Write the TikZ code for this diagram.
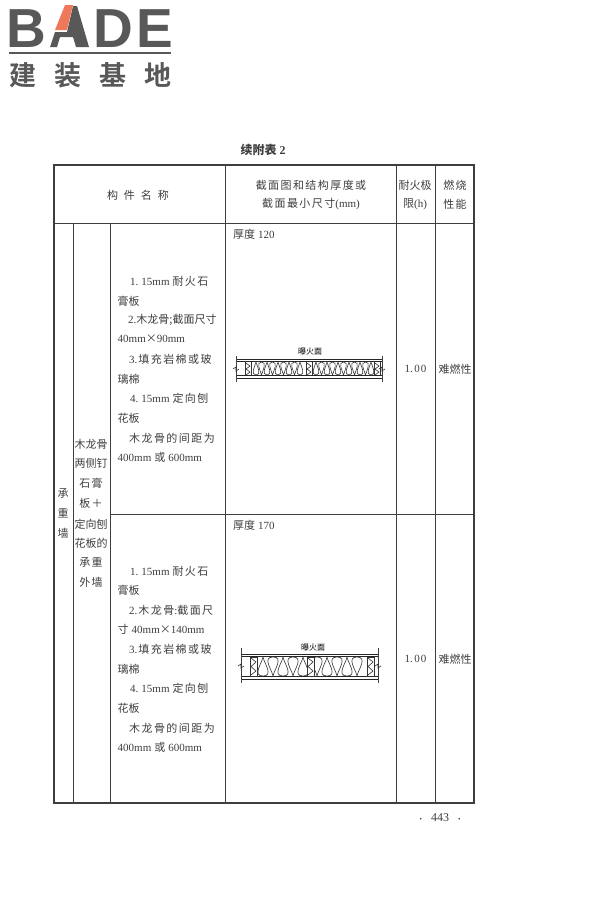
\documentclass[tikz,border=0pt]{standalone}
\usepackage{fontspec}
\setmainfont{Liberation Serif}
\newfontfamily\cjk{Noto Sans CJK SC}
\newfontfamily\cjkwide[LetterSpace=13]{Noto Sans CJK SC}
\newfontfamily\cjkbold{Noto Sans CJK SC Bold}
\usetikzlibrary{positioning}
\definecolor{inkgrey}{RGB}{62,62,62}
\definecolor{logogrey}{RGB}{88,88,88}
\definecolor{logored}{RGB}{240,120,90}
\newcommand{\zh}[1]{{\cjk #1}}
\newcommand{\zw}[1]{{\cjkwide #1}}
\tikzset{
    celltext/.style={font=\fontsize{11}{11}\selectfont,text=inkgrey,inner sep=0pt,anchor=west},
    midtext/.style={font=\fontsize{11}{11}\selectfont,text=inkgrey,inner sep=0pt},
    firetext/.style={font=\cjk\fontsize{8}{8}\selectfont,text=black,inner sep=0pt},
    logotext/.style={font=\fontspec{Liberation Sans Bold}\fontsize{55}{55}\selectfont,text=logogrey,inner sep=0pt,anchor=base west},
    logocn/.style={font=\cjkbold\fontsize{27}{27}\selectfont,text=logogrey,inner sep=0pt},
    tabline/.style={draw=inkgrey,line width=0.9pt},
    tabframe/.style={draw=inkgrey,line width=1.4pt},
    wool/.style={draw=black!80,line width=0.6pt},
    board/.style={draw=black!85,line width=1pt},
    tickline/.style={draw=black!75,line width=0.6pt}
}
\begin{document}
\begin{tikzpicture}[x=1pt,y=-1pt]
    \useasboundingbox (0,0) rectangle (600,900);
    % logo
    \node[logotext] (logob) at (6,47) {B};
    \node[logotext] (logod) at (93,47) {D};
    \node[logotext] (logoe) at (136,47) {E};
    \fill[logogrey] (50,47) -- (55,32) -- (67,32) -- (73,6) -- (77,6) -- (89,47) -- (76,47) -- (73,37) -- (60,37) -- (57,47) -- cycle;
    \fill[logored] (55,30) -- (65,5) -- (73,5) -- (67,30) -- cycle;
    \draw[logogrey,line width=2.2pt] (9,53) -- (171,53);
    \node[logocn] (logocn1) at (23,75) {建};
    \node[logocn] (logocn2) at (68,75) {装};
    \node[logocn] (logocn3) at (113,75) {基};
    \node[logocn] (logocn4) at (158,75) {地};
    % title
    \node[midtext,font=\fontsize{12}{12}\selectfont\bfseries] (title) at (263,150) {{\cjkbold 续附表} 2};
    % table
    \draw[tabframe] (54,165) rectangle (474,803);
    \draw[tabline] (54,223) -- (474,223);
    \draw[tabline] (73,223) -- (73,803);
    \draw[tabline] (110,223) -- (110,803);
    \draw[tabline] (225,165) -- (225,803);
    \draw[tabline] (396,165) -- (396,803);
    \draw[tabline] (435,165) -- (435,803);
    \draw[tabline] (110,514) -- (474,514);
    % header
    \node[midtext] (head1) at (138,195) {\zh{构\hspace{6pt}件\hspace{6pt}名\hspace{6pt}称}};
    \node[midtext] (head2a) at (311,185) {\zw{截面图和结构厚度或}};
    \node[midtext] (head2b) at (311,204) {\zw{截面最小尺寸}(mm)};
    \node[midtext] (head3a) at (415,185) {\zh{耐火极}};
    \node[midtext] (head3b) at (415,204) {\zh{限}(h)};
    \node[midtext] (head4a) at (455,185) {\zw{燃烧}};
    \node[midtext] (head4b) at (455,204) {\zw{性能}};
    % left columns
    \node[midtext] (wall1) at (63,493) {\zh{承}};
    \node[midtext] (wall2) at (63,513) {\zh{重}};
    \node[midtext] (wall3) at (63,533) {\zh{墙}};
    \node[midtext] (kind1) at (91,444) {\zh{木龙骨}};
    \node[midtext] (kind2) at (91,463) {\zh{两侧钉}};
    \node[midtext] (kind3) at (91,483) {\zw{石膏}};
    \node[midtext] (kind4) at (91,503) {\zw{板＋}};
    \node[midtext] (kind5) at (91,524) {\zh{定向刨}};
    \node[midtext] (kind6) at (91,543) {\zh{花板的}};
    \node[midtext] (kind7) at (91,562) {\zw{承重}};
    \node[midtext] (kind8) at (91,582) {\zw{外墙}};
    % first row text
    \node[celltext] (a1) at (130,281) {1.\hspace{3pt}15mm\hspace{3pt}\zw{耐火石}};
    \node[celltext] (a2) at (117.5,301) {\zh{膏板}};
    \node[celltext] (a3) at (128,320) {2.\zh{木龙骨;截面尺寸}};
    \node[celltext] (a4) at (117.5,339) {40mm\zh{×}90mm};
    \node[celltext] (a5) at (129,359) {3.\hspace{1pt}\zw{填充岩棉或玻}};
    \node[celltext] (a6) at (117.5,379) {\zh{璃棉}};
    \node[celltext] (a7) at (130,398) {4.\hspace{3pt}15mm\hspace{3pt}\zw{定向刨}};
    \node[celltext] (a8) at (117.5,418) {\zh{花板}};
    \node[celltext] (a9) at (129,438) {\zw{木龙骨的间距为}};
    \node[celltext] (a10) at (117.5,457) {400mm\hspace{3pt}\zh{或}\hspace{3pt}600mm};
    % second row text
    \node[celltext] (b1) at (130,571) {1.\hspace{3pt}15mm\hspace{3pt}\zw{耐火石}};
    \node[celltext] (b2) at (117.5,590) {\zh{膏板}};
    \node[celltext] (b3) at (129,610) {2.\hspace{1pt}\zw{木龙骨}:\zw{截面尺}};
    \node[celltext] (b4) at (117.5,629) {\zh{寸}\hspace{3pt}40mm\zh{×}140mm};
    \node[celltext] (b5) at (129,649) {3.\hspace{1pt}\zw{填充岩棉或玻}};
    \node[celltext] (b6) at (117.5,669) {\zh{璃棉}};
    \node[celltext] (b7) at (130,688) {4.\hspace{3pt}15mm\hspace{3pt}\zw{定向刨}};
    \node[celltext] (b8) at (117.5,708) {\zh{花板}};
    \node[celltext] (b9) at (129,728) {\zw{木龙骨的间距为}};
    \node[celltext] (b10) at (117.5,747) {400mm\hspace{3pt}\zh{或}\hspace{3pt}600mm};
    % right columns
    \node[celltext] (thick1) at (233,234) {\zh{厚度}\hspace{3pt}120};
    \node[celltext] (thick2) at (233,525) {\zh{厚度}\hspace{3pt}170};
    \node[midtext] (time1) at (415.5,369) {1.\hspace{1.5pt}0\hspace{1pt}0};
    \node[midtext] (time2) at (415.5,659) {1.\hspace{1.5pt}0\hspace{1pt}0};
    \node[midtext] (burn1) at (455,369) {\zh{难燃性}};
    \node[midtext] (burn2) at (455,659) {\zh{难燃性}};
    % first section
    \node[firetext] (fire1) at (310,352) {曝火面};
    \draw[board] (236,359) -- (382,359);
    \draw[board] (236,361.5) -- (382,361.5);
    \draw[board] (236,375.5) -- (382,375.5);
    \draw[board] (236,378) -- (382,378);
    \draw[tickline] (236,356) -- (236,382);
    \draw[tickline] (382,356) -- (382,382);
    \draw[wool] (233,369) -- (236,367) -- (236,371) -- (239,369);
    \draw[wool] (379,369) -- (382,367) -- (382,371) -- (385,369);
    \foreach \xa in {256,267,...,300,316,327,...,371} {
        \draw[wool] (\xa,362) .. controls (\xa+1,366) and (\xa+6,375) .. (\xa,375) .. controls (\xa-6,375) and (\xa-1,366) .. (\xa,362);
    }
    \foreach \xa in {261.5,272.5,...,303,321.5,332.5,...,369} {
        \draw[wool] (\xa,375) .. controls (\xa+1,371) and (\xa+6,362) .. (\xa,362) .. controls (\xa-6,362) and (\xa-1,371) .. (\xa,375);
    }
    \foreach \xa in {245,306,374} {
        \draw[wool] (\xa,362) -- (\xa,375);
        \draw[wool] (\xa+6,362) -- (\xa+6,375);
        \draw[wool] (\xa+1,363) -- (\xa+5,366) -- (\xa+1,369) -- (\xa+5,372) -- (\xa+1,375);
    }
    % second section
    \node[firetext] (fire2) at (313,647) {曝火面};
    \draw[board] (241,654) -- (378,654);
    \draw[board] (241,656.5) -- (378,656.5);
    \draw[board] (241,676.5) -- (378,676.5);
    \draw[board] (241,679) -- (378,679);
    \draw[tickline] (241,648) -- (241,683);
    \draw[tickline] (378,648) -- (378,683);
    \draw[wool] (238,666) -- (241,664) -- (241,668) -- (244,666);
    \draw[wool] (375,666) -- (378,664) -- (378,668) -- (381,666);
    \foreach \xa in {263,283,303,327,347} {
        \draw[wool] (\xa,657) .. controls (\xa+1,663) and (\xa+11,676) .. (\xa,676) .. controls (\xa-11,676) and (\xa-1,663) .. (\xa,657);
    }
    \foreach \xa in {273,293,317,337,357} {
        \draw[wool] (\xa,676) .. controls (\xa+1,670) and (\xa+11,657) .. (\xa,657) .. controls (\xa-11,657) and (\xa-1,670) .. (\xa,676);
    }
    \foreach \xa in {250,307,367} {
        \draw[fill=white,draw=black!80,line width=0.6pt] (\xa,657) rectangle (\xa+7,676);
        \draw[wool] (\xa+1,658) -- (\xa+6,662) -- (\xa+1,666.5) -- (\xa+6,671) -- (\xa+1,675);
    }
    % page number
    \node[midtext,font=\fontsize{12}{12}\selectfont] (pageno) at (440,818) {{\fontsize{7}{7}\selectfont•}\hspace{9pt}443\hspace{9pt}{\fontsize{7}{7}\selectfont•}};
\end{tikzpicture}
\end{document}
